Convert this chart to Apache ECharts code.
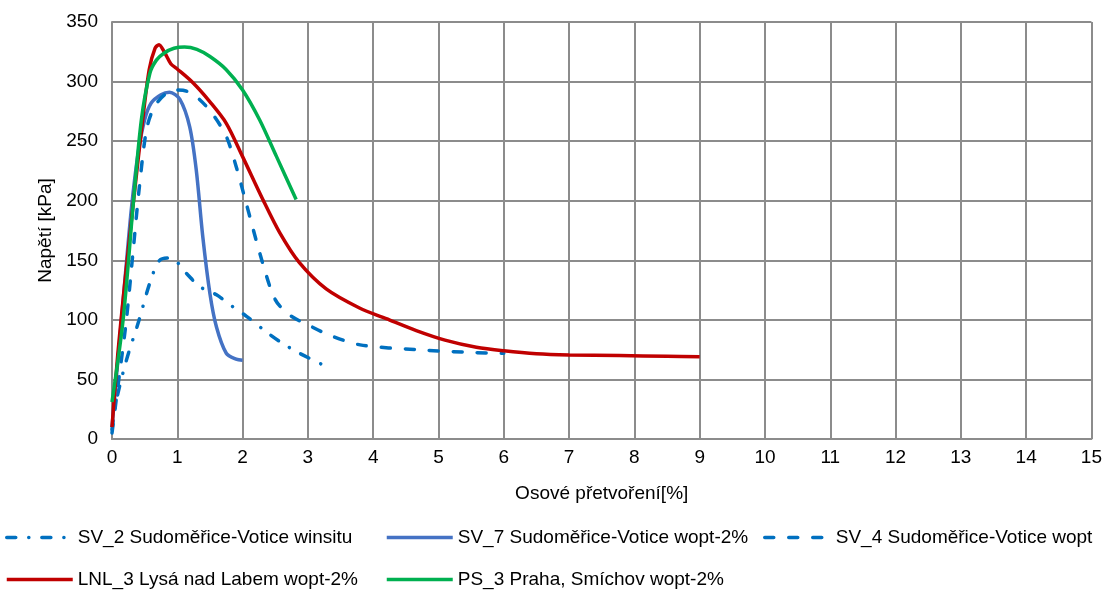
<!DOCTYPE html>
<html>
<head>
<meta charset="utf-8">
<script src="https://cdn.jsdelivr.net/npm/echarts@6/dist/echarts.min.js"></script>
<style>
  html, body { margin: 0; padding: 0; background: #fff; }
  #chart { width: 1105px; height: 592px; }
</style>
</head>
<body>
<div id="chart"></div>
<script>
// Axial strain [%] vs. stress [kPa] for each sample
const seriesNames = [
  'SV_2 Sudoměřice-Votice winsitu',
  'SV_7 Sudoměřice-Votice wopt-2%',
  'SV_4 Sudoměřice-Votice wopt',
  'LNL_3 Lysá nad Labem wopt-2%',
  'PS_3 Praha, Smíchov wopt-2%'
];

const sv2 = [[0,8],[0.07,33],[0.22,66],[0.41,99],[0.58,131],[0.73,150],[0.9,152],[1.14,139],[1.34,128],[1.6,121],[1.85,111],[2.06,103],[2.36,90],[2.62,80],[2.87,72],[3.2,63]];
const sv7 = [[0,10],[0.1,72],[0.2,135],[0.3,195],[0.4,240],[0.5,268],[0.6,282],[0.75,289],[0.88,291],[1.04,285],[1.19,262],[1.29,226],[1.39,170],[1.5,122],[1.6,94],[1.75,72],[1.9,67],[2.0,66]];
const sv4 = [[0,5],[0.09,44],[0.22,100],[0.32,156],[0.42,212],[0.53,260],[0.65,279],[0.83,290],[0.99,293],[1.14,292],[1.34,285],[1.55,272],[1.75,254],[1.9,229],[2.04,201],[2.3,149],[2.5,117],[2.72,104],[3.03,95],[3.34,87],[3.8,79],[4.66,75],[5.58,72.5],[6.0,72]];
const lnl3 = [[0,10],[0.09,72],[0.19,128],[0.33,200],[0.47,268],[0.57,310],[0.66,328],[0.72,331],[0.8,325],[0.9,315],[0.99,311],[1.24,299],[1.5,283],[1.75,265],[2.0,237],[2.31,201],[2.57,173],[2.87,148],[3.28,126],[3.79,110],[4.2,101],[4.66,91],[5.1,83],[5.58,77],[6.0,74],[6.5,71.5],[7.0,70.5],[7.77,70],[8.5,69.5],[9.0,69]];
const ps3 = [[0,31],[0.17,100],[0.33,200],[0.45,268],[0.58,307],[0.68,318],[0.8,324],[0.95,328],[1.11,329],[1.3,327],[1.5,321],[1.75,310],[2.0,293],[2.26,268],[2.52,237],[2.82,201]];

const xTitle = 'Osové přetvoření[%]';
const yTitle = 'Napětí [kPa]';

const FONT = "'Liberation Sans', Arial, sans-serif";
const FS = 19;
const GRID_COLOR = '#8c8c8c';
const LINE_W = 3.5;
const DASH = [9, 15];
const DASH_DOT = [9, 13, 0.1, 13];

const lineSeries = (name, data, color, type) => ({
  name, type: 'line', data,
  symbol: 'none',
  smooth: 0.3,
  lineStyle: { color, width: LINE_W, type, cap: type === 'solid' ? 'butt' : 'round' },
  itemStyle: { color }
});

// one legend block per entry so the entries sit in fixed columns
const legendAt = (name, left, top) => ({
  data: [name], left, top, padding: 0,
  itemWidth: 66, itemHeight: 14,
  itemStyle: { opacity: 0 },
  lineStyle: { width: LINE_W },
  textStyle: { fontFamily: FONT, fontSize: FS, color: '#000' }
});

const chart = echarts.init(document.getElementById('chart'));
chart.setOption({
  animation: false,
  grid: { left: 112, right: 13, top: 22, bottom: 153, containLabel: false },
  xAxis: {
    type: 'value', min: 0, max: 15, interval: 1,
    name: xTitle, nameLocation: 'middle', nameGap: 45,
    nameTextStyle: { fontFamily: FONT, fontSize: FS, color: '#000' },
    axisLine: { show: true, onZero: false, lineStyle: { color: GRID_COLOR, width: 2 } },
    axisTick: { show: false },
    axisLabel: { fontFamily: FONT, fontSize: FS, color: '#000', margin: 9 },
    splitLine: { show: true, lineStyle: { color: GRID_COLOR, width: 2 } }
  },
  yAxis: {
    type: 'value', min: 0, max: 350, interval: 50,
    name: yTitle, nameLocation: 'middle', nameGap: 53, nameRotate: 90,
    nameTextStyle: { fontFamily: FONT, fontSize: FS, color: '#000' },
    axisLine: { show: true, lineStyle: { color: GRID_COLOR, width: 2 } },
    axisTick: { show: false },
    axisLabel: { fontFamily: FONT, fontSize: FS, color: '#000', margin: 14 },
    splitLine: { show: true, lineStyle: { color: GRID_COLOR, width: 2 } }
  },
  legend: [
    legendAt(seriesNames[0], 5, 528),
    legendAt(seriesNames[1], 385, 528),
    legendAt(seriesNames[2], 763, 528),
    legendAt(seriesNames[3], 5, 570),
    legendAt(seriesNames[4], 385, 570)
  ],
  series: [
    lineSeries(seriesNames[0], sv2, '#0070C0', DASH_DOT),
    lineSeries(seriesNames[1], sv7, '#4472C4', 'solid'),
    lineSeries(seriesNames[2], sv4, '#0070C0', DASH),
    lineSeries(seriesNames[3], lnl3, '#C00000', 'solid'),
    lineSeries(seriesNames[4], ps3, '#00B050', 'solid')
  ]
});
</script>
</body>
</html>
